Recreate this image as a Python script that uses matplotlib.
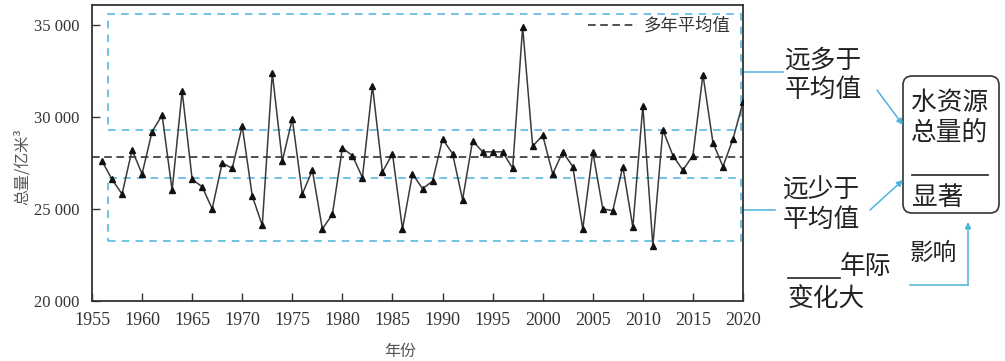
import matplotlib.pyplot as plt
from matplotlib.patches import FancyBboxPatch, Rectangle

plt.rcParams['font.family'] = ['Noto Sans CJK SC', 'DejaVu Sans']

years = list(range(1956, 2021))
totals = [27600, 26600, 25800, 28200, 26900, 29200, 30100, 26000, 31400, 26600,
          26200, 25000, 27500, 27200, 29500, 25700, 24100, 32400, 27600, 29900,
          25800, 27100, 23900, 24700, 28300, 27900, 26700, 31700, 27000, 28000,
          23900, 26900, 26100, 26500, 28800, 28000, 25500, 28700, 28100, 28100,
          28100, 27200, 34900, 28400, 29000, 26900, 28100, 27300, 23900, 28100,
          25000, 24900, 27300, 24000, 30600, 23000, 29300, 27900, 27100, 27900,
          32300, 28600, 27300, 28800, 30800]
mean_value = 27800
# 远多于/远少于平均值 的范围
high_band = (29270, 35600)
low_band = (23270, 26650)
yticks = [20000, 25000, 30000, 35000]
ytick_labels = ['20 000', '25 000', '30 000', '35 000']
xticks = list(range(1955, 2021, 5))

blue = '#4cb3dc'
dark = '#333333'
serif = ['Liberation Serif', 'DejaVu Serif']

fig = plt.figure(figsize=(10.05, 3.61), dpi=100)
ax = fig.add_axes([92 / 1005, 1 - 300.7 / 361, (743 - 92) / 1005, (300.7 - 5) / 361])

# 蓝色虚线框
for lo, hi in (high_band, low_band):
    ax.add_patch(Rectangle((1956.6, lo), 2019.85 - 1956.6, hi - lo, fill=False,
                           edgecolor=blue, linestyle=(0, (5, 4)), lw=1.1, zorder=1))
    mid = (lo + hi) / 2
    ax.plot([2020, 2024 if lo == high_band[0] else 2023.2], [mid, mid], color=blue,
            lw=1.1, clip_on=False)

ax.plot([1955, 2020], [mean_value, mean_value], color='#222222', lw=1.1,
        linestyle=(0, (5, 3)), label='多年平均值', zorder=2)
ax.plot(years, totals, color='#3a3a3a', lw=1.1, marker='^', markersize=4.5,
        markerfacecolor='#111111', markeredgecolor='#111111', zorder=3)

ax.set_xlim(1955, 2020)
ax.set_ylim(20000, 36090)
ax.set_xticks(xticks)
ax.set_xticklabels([str(x) for x in xticks], family=serif, fontsize=13, color=dark)
ax.set_yticks(yticks)
ax.set_yticklabels(ytick_labels, family=serif, fontsize=12, color=dark)
ax.tick_params(direction='in', length=6, width=1, color=dark)
ax.tick_params(axis='x', pad=8)
ax.tick_params(axis='y', pad=9)
for s in ax.spines.values():
    s.set_color(dark)
    s.set_linewidth(1.3)

leg = ax.legend(loc='upper right', frameon=False, fontsize=12.5, handlelength=2.8,
                handletextpad=0.4, borderaxespad=0.3)
for t in leg.get_texts():
    t.set_color(dark)

fig.text(22 / 1005, 1 - 167 / 361, '总量/亿米³', rotation=90, ha='center', va='center',
         fontsize=11.5, color='#555555')
fig.text(400 / 1005, 1 - 351 / 361, '年份', ha='center', va='center', fontsize=11.5,
         color='#555555')

# 右侧说明，用像素坐标的覆盖层
ov = fig.add_axes([0, 0, 1, 1])
ov.set_xlim(0, 1005)
ov.set_ylim(361, 0)
ov.axis('off')
ov.patch.set_visible(False)

fs = 18.5
ov.text(785, 75, '远多于\n平均值', fontsize=fs, color='#222222', va='center', ha='left',
        linespacing=1.15)
ov.text(783, 205, '远少于\n平均值', fontsize=fs, color='#222222', va='center', ha='left',
        linespacing=1.15)
ov.add_patch(FancyBboxPatch((903, 76), 96, 137, boxstyle='round,pad=0,rounding_size=9',
                            fill=False, edgecolor='#333333', lw=1.2))
ov.text(950, 103, '水资源', fontsize=fs, color='#222222', ha='center', va='center')
ov.text(950, 133, '总量的', fontsize=fs, color='#222222', ha='center', va='center')
ov.plot([912, 988], [175, 175], color='#222222', lw=1.2)
ov.text(912, 198, '显著', fontsize=fs, color='#222222', ha='left', va='center')
ov.text(933, 253, '影响', fontsize=17, color='#222222', ha='center', va='center')
ov.plot([788, 840], [278, 278], color='#222222', lw=1.2)
ov.text(840, 267, '年际', fontsize=fs, color='#222222', ha='left', va='center')
ov.text(788, 300, '变化大', fontsize=fs, color='#222222', ha='left', va='center')

arrow = dict(arrowstyle='-|>', color=blue, lw=1.1, mutation_scale=9, shrinkA=0, shrinkB=0)
ov.annotate('', xy=(903, 125), xytext=(877, 90), arrowprops=arrow)
ov.annotate('', xy=(903, 180), xytext=(870, 210), arrowprops=arrow)
ov.plot([910, 968], [285, 285], color=blue, lw=1.1)
ov.annotate('', xy=(968, 222), xytext=(968, 285), arrowprops=arrow)

fig.savefig('out.png', dpi=100)
